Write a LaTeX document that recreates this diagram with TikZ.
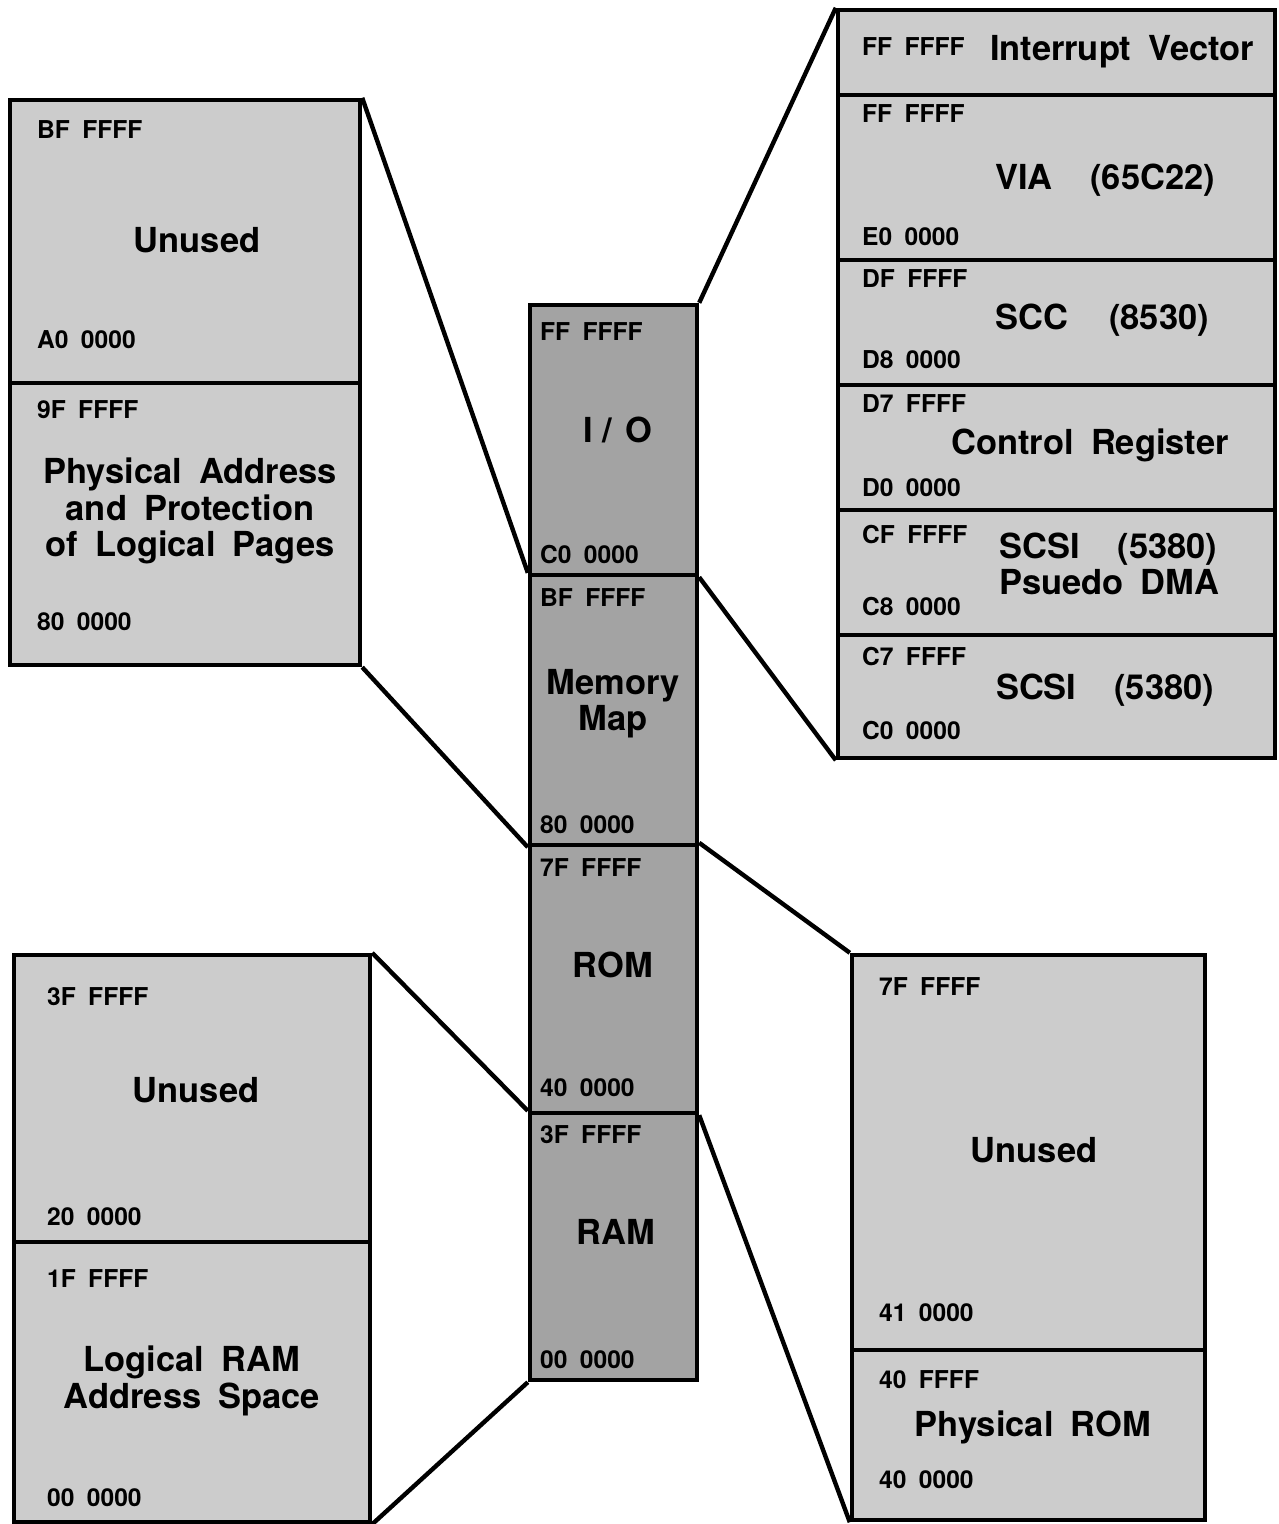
\documentclass[tikz,border=0pt]{standalone}
\usepackage{fontspec}
\setmainfont{TeX Gyre Heros}[WordSpace=1.8]
\usetikzlibrary{fit}

\begin{document}
\begin{tikzpicture}[x=0.01cm,y=-0.01cm,line width=1.25pt]
\tikzset{seg/.style={draw,fill=black!20,inner sep=0pt},
core/.style={seg,fill=black!36},
addr/.style={font=\fontsize{7}{8}\selectfont\bfseries,anchor=west,inner sep=0pt},
lbl/.style={font=\fontsize{9.8}{10.3}\selectfont\bfseries,align=center,inner sep=0pt},
link/.style={line width=1.25pt}}
\useasboundingbox (0,0) rectangle (1278,1524);
% central map
\node[core,fit={(530,305) (697,575)}] (io) {};
\node[core,fit={(530,575) (697,845)}] (mm) {};
\node[core,fit={(530,845) (697,1113)}] (rom) {};
\node[core,fit={(530,1113) (697,1380)}] (ram) {};
% memory map detail
\node[seg,fit={(10,100) (360,383)}] (mmu) {};
\node[seg,fit={(10,383) (360,665)}] (mmp) {};
% i/o detail
\node[seg,fit={(838,10) (1275,95)}] (iv) {};
\node[seg,fit={(838,95) (1275,260)}] (via) {};
\node[seg,fit={(838,260) (1275,385)}] (scc) {};
\node[seg,fit={(838,385) (1275,510)}] (ctl) {};
\node[seg,fit={(838,510) (1275,635)}] (dma) {};
\node[seg,fit={(838,635) (1275,758)}] (scsi) {};
% ram detail
\node[seg,fit={(14,955) (370,1242)}] (ramu) {};
\node[seg,fit={(14,1242) (370,1522)}] (raml) {};
% rom detail
\node[seg,fit={(852,955) (1205,1350)}] (romu) {};
\node[seg,fit={(852,1350) (1205,1520)}] (romp) {};
\draw[link] (mmu.north east)--(mm.north west);
\draw[link] (mmp.south east)--(mm.south west);
\draw[link] (io.north east)--(iv.north west);
\draw[link] (io.south east)--(scsi.south west);
\draw[link] (rom.north east)--(romu.north west);
\draw[link] (rom.south east)--(romp.south west);
\draw[link] (ramu.north east)--(ram.north west);
\draw[link] (raml.south east)--(ram.south west);
% addresses
\foreach \x/\y/\t [count=\i] in {35/130/BF FFFF,35/340/A0 0000,35/410/9F FFFF,35/622/80 0000,
538/332/FF FFFF,538/555/C0 0000,538/598/BF FFFF,538/825/80 0000,
538/868/7F FFFF,538/1088/40 0000,538/1135/3F FFFF,538/1360/00 0000,
860/47/FF FFFF,860/114/FF FFFF,860/237/E0 0000,860/279/DF FFFF,860/360/D8 0000,
860/404/D7 FFFF,860/488/D0 0000,860/535/CF FFFF,860/607/C8 0000,860/657/C7 FFFF,860/731/C0 0000,
45/997/3F FFFF,45/1217/20 0000,45/1279/1F FFFF,45/1498/00 0000,
877/987/7F FFFF,877/1313/41 0000,877/1380/40 FFFF,877/1480/40 0000}
\node[addr] (ad\i) at (\x,\y) {\t};
% region names
\node[lbl] (tmmu) at (197,240) {Unused};
\node[lbl] (tmmp) at (190,511) {Physical Address\\and Protection\\of Logical Pages};
\node[lbl] (tio) at (618,430) {I\hspace{0.28em}/\hspace{0.4em}O};
\node[lbl] (tmm) at (613,704) {Memory\\Map};
\node[lbl] (trom) at (613,965) {ROM};
\node[lbl] (tram) at (616,1232) {RAM};
\node[lbl] (tiv) at (1122,52) {Interrupt Vector};
\node[lbl] (tvia) at (1105,180) {VIA\hspace{1.1em}(65C22)};
\node[lbl] (tscc) at (1102,320) {SCC\hspace{1.2em}(8530)};
\node[lbl] (tctl) at (1090,445) {Control Register};
\node[lbl,align=left,anchor=west] (tdma) at (997,564) {SCSI\hspace{1.1em}(5380)\\Psuedo DMA};
\node[lbl] (tscsi) at (1105,690) {SCSI\hspace{1.1em}(5380)};
\node[lbl] (tramu) at (196,1090) {Unused};
\node[lbl] (traml) at (192,1381) {Logical RAM\\Address Space};
\node[lbl] (tromu) at (1034,1150) {Unused};
\node[lbl] (tromp) at (1033,1427) {Physical ROM};
\end{tikzpicture}
\end{document}
